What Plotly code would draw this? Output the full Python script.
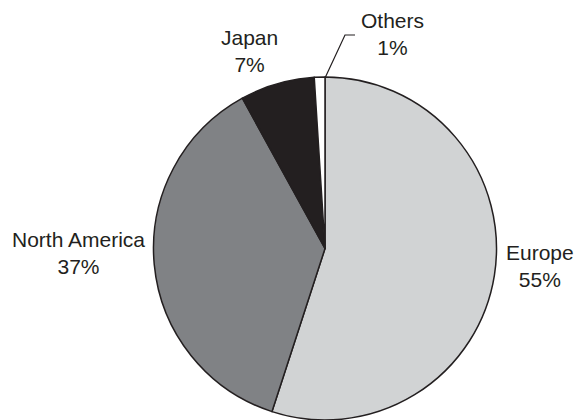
import plotly.graph_objects as go

# Market share by region
regions = ["Europe", "North America", "Japan", "Others"]
shares = [55, 37, 7, 1]
colors = ["#d1d3d4", "#808285", "#231f20", "#ffffff"]

W, H = 576, 420
M_L, M_R, M_T, M_B = 153, 79, 77, 0
PW, PH = W - M_L - M_R, H - M_T - M_B


def px_x(x):
    return (x - M_L) / PW


def px_y(y):
    return (H - M_B - y) / PH


fig = go.Figure(
    go.Pie(
        labels=regions,
        values=shares,
        sort=False,
        direction="clockwise",
        rotation=0,
        marker=dict(colors=colors, line=dict(color="#231f20", width=1.5)),
        textinfo="none",
        hoverinfo="label+percent",
        showlegend=False,
    )
)

# Label positions (pixel centres of each region's text block)
label_pos = {
    "Europe": (540, 266),
    "North America": (78, 253),
    "Japan": (249, 51),
    "Others": (392, 34),
}
for name, val in zip(regions, shares):
    x, y = label_pos[name]
    fig.add_annotation(
        x=px_x(x), y=px_y(y), xref="paper", yref="paper",
        text=f"{name}<br>{val}%", showarrow=False,
        font=dict(family="Liberation Sans, Arial, sans-serif", size=21, color="#231f20"),
        align="center", xanchor="center", yanchor="middle",
    )

# Leader line for the small slice
fig.add_shape(
    type="path", xref="paper", yref="paper",
    path=f"M {px_x(325)} {px_y(78)} L {px_x(345)} {px_y(35)} L {px_x(355)} {px_y(35)}",
    line=dict(color="#231f20", width=1.2),
)

fig.update_layout(
    width=W, height=H,
    margin=dict(l=M_L, r=M_R, t=M_T, b=M_B),
    paper_bgcolor="white", plot_bgcolor="white",
)

fig.write_html("out.html")
